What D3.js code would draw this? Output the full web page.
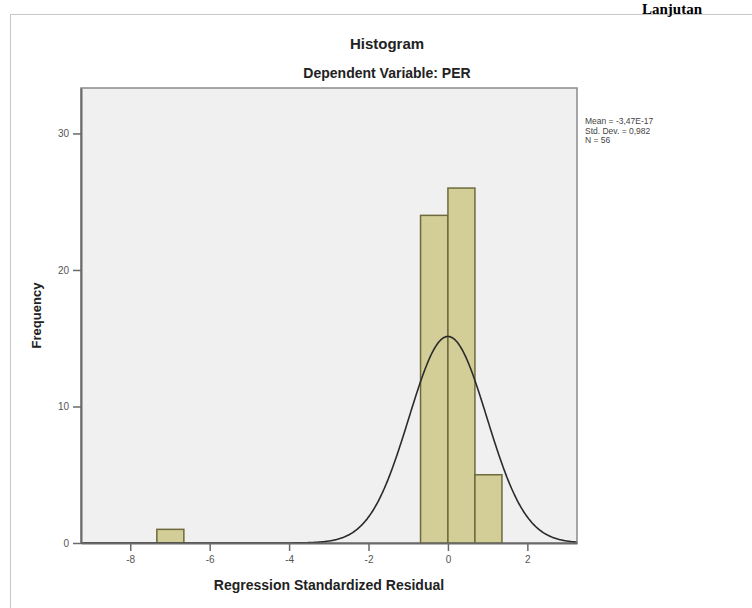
<!DOCTYPE html>
<html><head><meta charset="utf-8">
<script src="https://cdn.jsdelivr.net/npm/d3@7"></script>
<style>body{margin:0;background:#fff}svg{display:block}</style>
</head><body>
<script>
// Data
const binStarts = [-7.33, -0.69, 0.0, 0.68];
const binEnds   = [-6.65, 0.0, 0.68, 1.36];
const counts    = [1, 24, 26, 5];
const xTicks = [-8, -6, -4, -2, 0, 2];
const yTicks = [0, 10, 20, 30];
const statLines = ["Mean = -3,47E-17", "Std. Dev. = 0,982", "N = 56"];
const mean = 0, sd = 0.982, N = 56, binWidth = 0.665;

const W = 752, H = 608;
const svg = d3.select("body").append("svg").attr("width", W).attr("height", H);
const font = "Liberation Sans, Arial, sans-serif";

// outer frame
svg.append("line").attr("x1",10.5).attr("x2",10.5).attr("y1",14).attr("y2",H).attr("stroke","#c8c8c8");
svg.append("line").attr("x1",10).attr("x2",W).attr("y1",14.5).attr("y2",14.5).attr("stroke","#c8c8c8");

// Lanjutan heading
svg.append("text").attr("x",642).attr("y",14).attr("font-family","Liberation Serif, Times New Roman, serif")
  .attr("font-weight","bold").attr("font-size",15).attr("fill","#000").text("Lanjutan");

const L = 81, R = 577, T = 88, B = 543;
const x = d3.scaleLinear().domain([-9.24, 3.25]).range([L, R]);
const y = d3.scaleLinear().domain([0, 33.33]).range([B, T]);

svg.append("rect").attr("x",L).attr("y",T).attr("width",R-L).attr("height",B-T).attr("fill","#f0f0f0")
  .attr("stroke","#8a8a8a").attr("stroke-width",1.5);

const g = svg.append("g");
g.selectAll("rect.bar").data(counts).join("rect").attr("class","bar")
  .attr("x",(d,i)=>x(binStarts[i])).attr("width",(d,i)=>x(binEnds[i])-x(binStarts[i]))
  .attr("y",d=>y(d)).attr("height",d=>B-y(d))
  .attr("fill","#d3ce97").attr("stroke","#6e6a3c").attr("stroke-width",1.5);

// normal curve (fitted from the stated mean, sd and N)
const xs = d3.range(-9.24, 3.2501, 0.02);
const pdf = v => N*binWidth*Math.exp(-0.5*((v-mean)/sd)**2)/(sd*Math.sqrt(2*Math.PI));
svg.append("path").datum(xs).attr("d", d3.line().x(v=>x(v)).y(v=>y(pdf(v))))
  .attr("fill","none").attr("stroke","#2b2b2b").attr("stroke-width",1.6);

// axes
const xAxis = svg.append("g").attr("transform",`translate(0,${B})`)
  .call(d3.axisBottom(x).tickValues(xTicks).tickSize(8).tickSizeOuter(0).tickFormat(d=>String(d)));
const yAxis = svg.append("g").attr("transform",`translate(${L},0)`)
  .call(d3.axisLeft(y).tickValues(yTicks).tickSize(8).tickSizeOuter(0).tickFormat(d=>String(d)));
[xAxis,yAxis].forEach(a=>{
  a.select(".domain").attr("stroke","#6a6a6a").attr("stroke-width",2);
  a.selectAll(".tick line").attr("stroke","#6a6a6a").attr("stroke-width",1.5);
  a.selectAll("text").attr("font-family",font).attr("font-size",10).attr("fill","#555");
});
xAxis.selectAll("text").attr("dy","0.9em");
yAxis.selectAll("text").attr("dx","-1");

// titles
svg.append("text").attr("x",387).attr("y",49).attr("text-anchor","middle").attr("font-family",font)
  .attr("font-weight","bold").attr("font-size",15).attr("fill","#222").text("Histogram");
svg.append("text").attr("x",387).attr("y",78).attr("text-anchor","middle").attr("font-family",font)
  .attr("font-weight","bold").attr("font-size",14).attr("fill","#222").text("Dependent Variable: PER");
svg.append("text").attr("x",329).attr("y",590).attr("text-anchor","middle").attr("font-family",font)
  .attr("font-weight","bold").attr("font-size",14).attr("fill","#222").text("Regression Standardized Residual");
svg.append("text").attr("transform",`translate(41,${(T+B)/2}) rotate(-90)`).attr("text-anchor","middle")
  .attr("font-family",font).attr("font-weight","bold").attr("font-size",13).attr("fill","#222").text("Frequency");

// stats
svg.append("g").selectAll("text").data(statLines).join("text")
  .attr("x",585).attr("y",(d,i)=>124+i*9.5).attr("font-family",font).attr("font-size",8.5).attr("fill","#444").text(d=>d);
</script>
</body></html>
